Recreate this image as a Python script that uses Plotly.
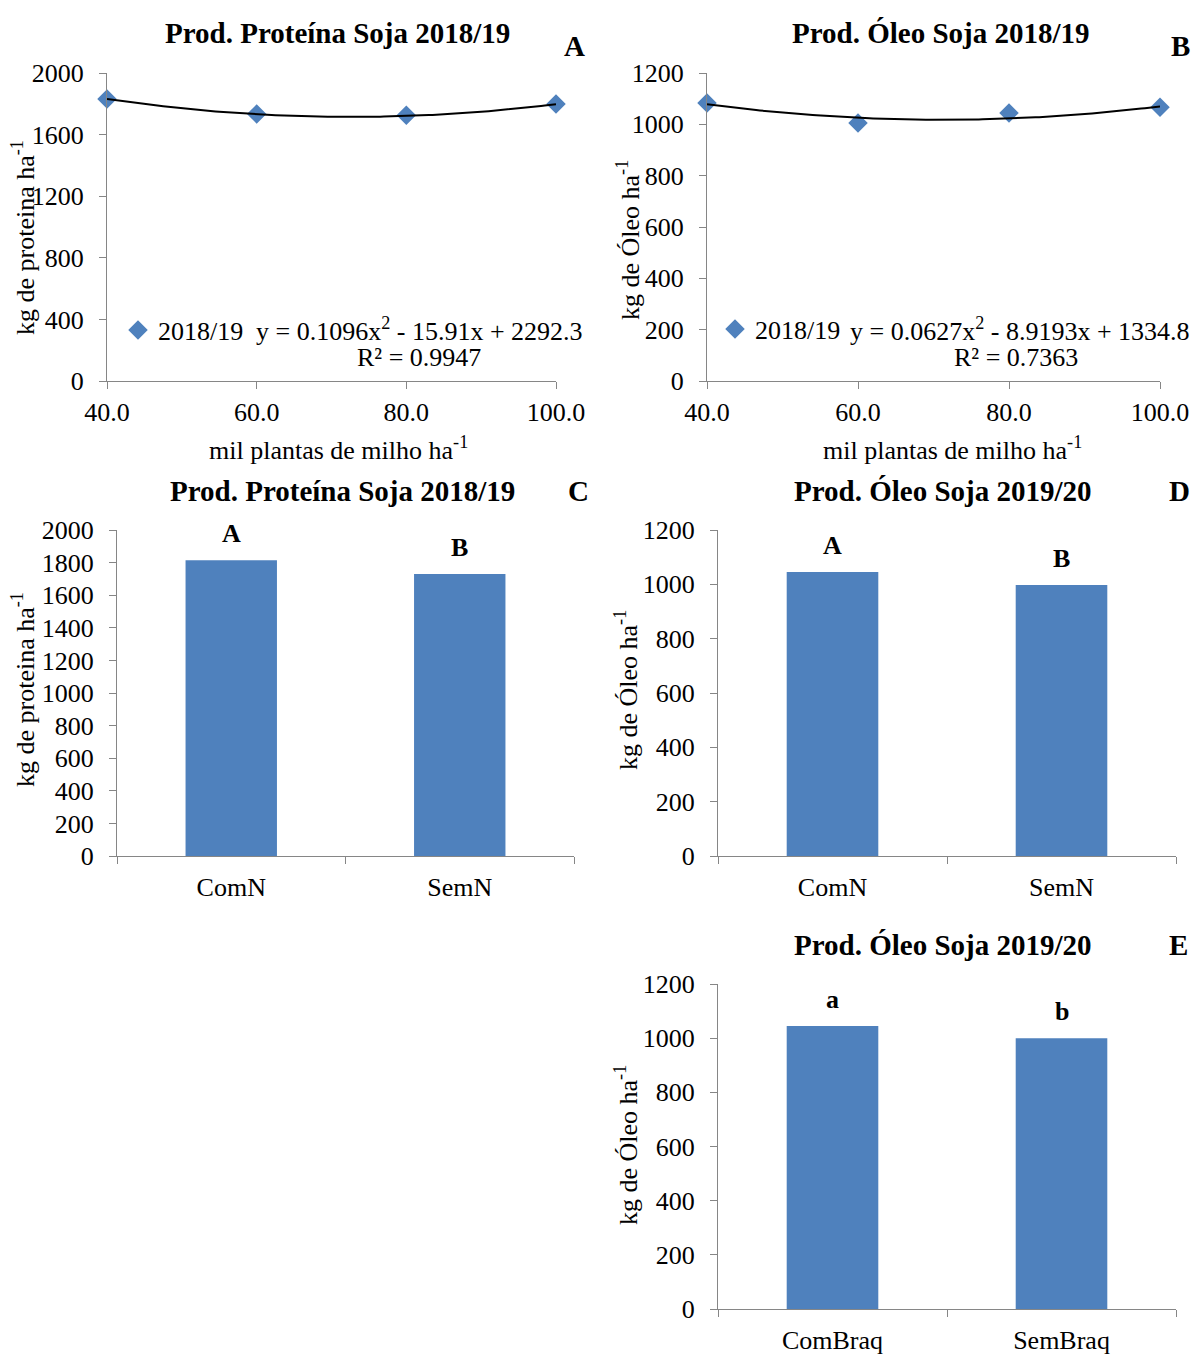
import plotly.graph_objects as go
import numpy as np

# ---------------- data ----------------
densidade = [40, 60, 80, 100]                 # mil plantas de milho ha-1
x_ticklabels_ab = ["40.0", "60.0", "80.0", "100.0"]
serie_nome = "2018/19"

proteina_1819 = [1831, 1734, 1725, 1798]      # panel A
coef_prot = [0.1096, -15.91, 2292.3]
r2_prot = 0.9947

oleo_1819 = [1083, 1005, 1044, 1067]          # panel B
coef_oleo = [0.0627, -8.9193, 1334.8]
r2_oleo = 0.7363

cat_n = ["ComN", "SemN"]
prot_n = [1815, 1730]                         # panel C
letras_c = ["A", "B"]

oleo_n = [1045, 998]                          # panel D
letras_d = ["A", "B"]

cat_braq = ["ComBraq", "SemBraq"]
oleo_braq = [1045, 1000]                      # panel E
letras_e = ["a", "b"]

# ---------------- style ----------------
W, H = 1192, 1355
FONT = "Liberation Serif, Times New Roman, Times, serif"
BLUE = "#4F81BD"
AXC = "#868686"
TICK_SIZE = 26


def px_x(p):
    return p / W


def px_y(p):
    return 1 - p / H


def yaxis(top, bottom, rng, dtick, anchor):
    return dict(domain=[px_y(bottom), px_y(top)], range=rng, dtick=dtick, tick0=0,
                showline=True, linecolor=AXC, linewidth=1, ticks="outside", ticklen=7,
                tickcolor=AXC, showgrid=False, zeroline=False, anchor=anchor,
                tickfont=dict(family=FONT, size=TICK_SIZE, color="black"),
                ticklabelstandoff=10)


def xaxis_num(left, right, anchor):
    return dict(domain=[px_x(left), px_x(right)], range=[40, 100], tickvals=densidade,
                ticktext=x_ticklabels_ab, showline=True, linecolor=AXC, linewidth=1,
                ticks="outside", ticklen=7, tickcolor=AXC, showgrid=False, zeroline=False,
                anchor=anchor, tickfont=dict(family=FONT, size=TICK_SIZE, color="black"),
                ticklabelstandoff=1)


def xaxis_cat(left, right, anchor):
    return dict(domain=[px_x(left), px_x(right)], type="category", range=[-0.5, 1.5],
                tickson="boundaries", showline=True, linecolor=AXC, linewidth=1,
                ticks="outside", ticklen=7, tickcolor=AXC, showgrid=False, zeroline=False,
                anchor=anchor, tickfont=dict(family=FONT, size=TICK_SIZE, color="black"),
                ticklabelstandoff=8)


fig = go.Figure()

# ---- A & B: scatter + quadratic trend ----
xs = np.linspace(min(densidade), max(densidade), 121)
for vals, coef, xa, ya, leg in [(proteina_1819, coef_prot, "x", "y", "legend"),
                                (oleo_1819, coef_oleo, "x2", "y2", "legend2")]:
    fig.add_trace(go.Scatter(x=densidade, y=vals, mode="markers", name=serie_nome,
                             marker=dict(symbol="diamond", size=15, color=BLUE),
                             cliponaxis=False, xaxis=xa, yaxis=ya, legend=leg))
    fig.add_trace(go.Scatter(x=xs, y=np.polyval(coef, xs), mode="lines",
                             line=dict(color="black", width=2), showlegend=False,
                             cliponaxis=False, xaxis=xa, yaxis=ya, hoverinfo="skip"))

# ---- C, D, E: bars ----
for cats, vals, xa, ya in [(cat_n, prot_n, "x3", "y3"), (cat_n, oleo_n, "x4", "y4"),
                           (cat_braq, oleo_braq, "x5", "y5")]:
    fig.add_trace(go.Bar(x=cats, y=vals, width=0.4, marker=dict(color=BLUE, line=dict(width=0)),
                         showlegend=False, xaxis=xa, yaxis=ya))

layout = dict(
    width=W, height=H, margin=dict(l=0, r=0, t=0, b=0, autoexpand=False),
    paper_bgcolor="white", plot_bgcolor="white",
    font=dict(family=FONT, size=TICK_SIZE, color="black"),
    xaxis=xaxis_num(107, 556, "y"), yaxis=yaxis(73, 381, [0, 2000], 400, "x"),
    xaxis2=xaxis_num(707, 1160, "y2"), yaxis2=yaxis(73, 381, [0, 1200], 200, "x2"),
    xaxis3=xaxis_cat(117, 574, "y3"), yaxis3=yaxis(530, 856, [0, 2000], 200, "x3"),
    xaxis4=xaxis_cat(718, 1176, "y4"), yaxis4=yaxis(530, 856, [0, 1200], 200, "x4"),
    xaxis5=xaxis_cat(718, 1176, "y5"), yaxis5=yaxis(984, 1309, [0, 1200], 200, "x5"),
    legend=dict(x=px_x(118), y=px_y(330), xanchor="left", yanchor="middle",
                bgcolor="rgba(0,0,0,0)", font=dict(family=FONT, size=26), itemwidth=30),
    legend2=dict(x=px_x(715), y=px_y(329), xanchor="left", yanchor="middle",
                 bgcolor="rgba(0,0,0,0)", font=dict(family=FONT, size=26), itemwidth=30),
    showlegend=True,
)
fig.update_layout(**layout)

ann = []


def text(x, y, t, size=26, bold=False, angle=0, xanchor="center"):
    ann.append(dict(x=px_x(x), y=px_y(y), xref="paper", yref="paper", text=f"<b>{t}</b>" if bold else t,
                    showarrow=False, textangle=angle, xanchor=xanchor, yanchor="middle",
                    font=dict(family=FONT, size=size, color="black")))


# titles
TS = 29
text(337, 33, "Prod. Proteína Soja 2018/19", TS, True)
text(941, 33, "Prod. Óleo Soja 2018/19", TS, True)
text(342, 491, "Prod. Proteína Soja 2018/19", TS, True)
text(943, 491, "Prod. Óleo Soja 2019/20", TS, True)
text(943, 945, "Prod. Óleo Soja 2019/20", TS, True)
# panel letters
text(574, 46, "A", TS, True)
text(1180, 46, "B", TS, True)
text(578, 491, "C", TS, True)
text(1179, 491, "D", TS, True)
text(1178, 945, "E", TS, True)
# axis titles
xt = "mil plantas de milho ha<sup>-1</sup>"
text(338, 449, xt)
text(952, 449, xt)
text(23, 238, "kg de proteina ha<sup>-1</sup>", angle=-90)
text(628, 240, "kg de Óleo ha<sup>-1</sup>", angle=-90)
text(23, 690, "kg de proteina ha<sup>-1</sup>", angle=-90)
text(626, 690, "kg de Óleo ha<sup>-1</sup>", angle=-90)
text(626, 1145, "kg de Óleo ha<sup>-1</sup>", angle=-90)


# trendline equations
def eq(coef):
    a, b, c = coef
    sb = "-" if b < 0 else "+"
    sc = "-" if c < 0 else "+"
    return f"y = {a}x<sup>2</sup> {sb} {abs(b)}x {sc} {abs(c)}"


text(419, 329, eq(coef_prot))
text(419, 358, f"R² = {r2_prot}")
text(1020, 329, eq(coef_oleo))
text(1016, 358, f"R² = {r2_oleo}")

# significance letters
for cats, vals, letras, xa, ya in [(cat_n, prot_n, letras_c, "x3", "y3"),
                                   (cat_n, oleo_n, letras_d, "x4", "y4"),
                                   (cat_braq, oleo_braq, letras_e, "x5", "y5")]:
    for c, v, l in zip(cats, vals, letras):
        ann.append(dict(x=c, y=v, xref=xa, yref=ya, text=f"<b>{l}</b>", showarrow=False,
                        yanchor="bottom", yshift=10,
                        font=dict(family=FONT, size=26, color="black")))

fig.update_layout(annotations=ann)
fig.write_html("out.html", config={"displayModeBar": False},
               post_script="document.body.style.margin='0px';")
